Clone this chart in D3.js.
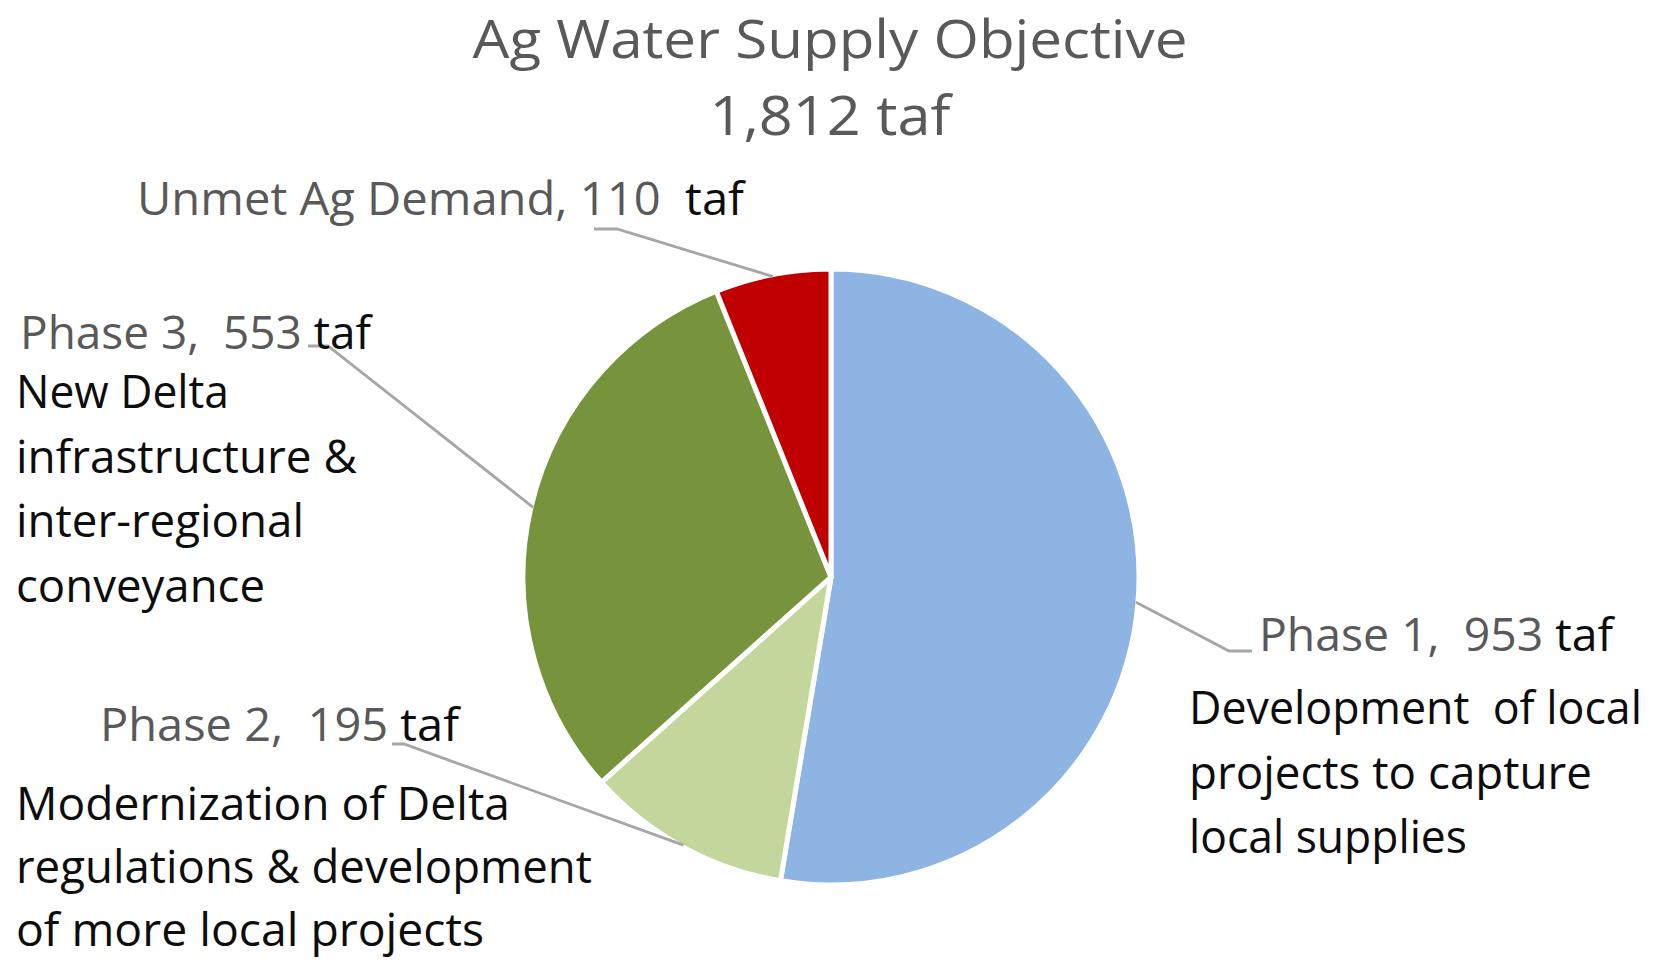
<!DOCTYPE html>
<html>
<head>
<meta charset="utf-8">
<script src="https://cdn.jsdelivr.net/npm/d3@7"></script>
<style>
  html, body { margin: 0; padding: 0; background: #fff; }
  svg { display: block; }
  text { font-family: "Open Sans", "Noto Sans", sans-serif; }
</style>
</head>
<body>
<svg id="chart" width="1655" height="960"></svg>
<script>
// ---- data ----
const categories = ["Phase 1", "Phase 2", "Phase 3", "Unmet Ag Demand"];
const values = [953, 195, 553, 110];
const units = "taf";
const colors = ["#8EB4E3", "#C3D69B", "#77933C", "#C00000"];
const titleLines = ["Ag Water Supply Objective", "1,812 taf"];
const descriptions = [
  ["Development  of local", "projects to capture", "local supplies"],
  ["Modernization of Delta", "regulations & development", "of more local projects"],
  ["New Delta", "infrastructure &", "inter-regional", "conveyance"],
  []
];

// ---- layout ----
const W = 1655, H = 960;
const cx = 831, cy = 577, R = 308;
const svg = d3.select("#chart");

// title
const titleLayout = [{y: 58, len: 715, size: 53}, {y: 135, len: 241, size: 54}];
svg.selectAll("text.title").data(titleLines).join("text")
  .attr("class", "title")
  .attr("x", cx - 1)
  .attr("y", (d, i) => titleLayout[i].y)
  .attr("text-anchor", "middle")
  .attr("font-size", (d, i) => titleLayout[i].size)
  .attr("font-weight", 400)
  .attr("fill", "#595959")
  .attr("textLength", (d, i) => titleLayout[i].len)
  .attr("lengthAdjust", "spacingAndGlyphs")
  .text(d => d);

// pie
const pie = d3.pie().sort(null).value(d => d.v);
const arcs = pie(values.map((v, i) => ({v, i})));
const arc = d3.arc().innerRadius(0).outerRadius(R);
const g = svg.append("g").attr("transform", `translate(${cx},${cy})`);
g.selectAll("path").data(arcs).join("path")
  .attr("d", arc)
  .attr("fill", d => colors[d.data.i])
  .attr("stroke", "#fff")
  .attr("stroke-width", 5)
  .attr("stroke-linejoin", "round");

// label layout (positions of label text blocks & leader elbows)
const labelLayout = [
  {x: 1259, y: 651, len: 354, sep1: "\u00A0\u00A0", sep2: " ",
   elbow: [1229, 651], end: [1252, 651], dx: 1189, dy0: 724, step: 64.5, lens: [453, 403, 278]},
  {x: 100, y: 741, len: 359, sep1: "\u00A0\u00A0", sep2: " ",
   elbow: [404, 744], end: [392, 744], dx: 16, dy0: 820, step: 63, lens: [494, 576, 468]},
  {x: 20, y: 349, len: 351, sep1: "\u00A0\u00A0", sep2: " ",
   elbow: [328, 346], end: [308, 346], dx: 16, dy0: 408, step: 64.6, lens: [213, 341, 288, 249]},
  {x: 137, y: 215, len: 607, sep1: "\u00A0", sep2: "\u00A0\u00A0",
   elbow: [617, 229], end: [594, 229]}
];

// leader lines from slice edge at mid-angle
const edgeArc = d3.arc().innerRadius(R - 2).outerRadius(R - 2);
svg.selectAll("polyline.leader").data(arcs).join("polyline")
  .attr("class", "leader")
  .attr("points", d => {
    const c = edgeArc.centroid(d);
    const L = labelLayout[d.data.i];
    return [[c[0] + cx, c[1] + cy], L.elbow, L.end].map(p => p.join(",")).join(" ");
  })
  .attr("fill", "none")
  .attr("stroke", "#A6A6A6")
  .attr("stroke-width", 2.8);

// category labels
arcs.forEach(d => {
  const i = d.data.i;
  const L = labelLayout[i];
  const t = svg.append("text")
    .attr("x", L.x).attr("y", L.y)
    .attr("font-size", 46)
    .attr("textLength", L.len)
    .attr("lengthAdjust", "spacingAndGlyphs");
  t.append("tspan").attr("fill", "#595959")
    .text(`${categories[i]},${L.sep1}${d3.format(",")(values[i])}${L.sep2}`);
  t.append("tspan").attr("fill", "#0D0D0D").text(units);

  descriptions[i].forEach((line, k) => {
    svg.append("text")
      .attr("x", L.dx)
      .attr("y", L.dy0 + k * L.step)
      .attr("font-size", 46)
      .attr("fill", "#0D0D0D")
      .attr("textLength", L.lens[k])
      .attr("lengthAdjust", "spacingAndGlyphs")
      .attr("xml:space", "preserve")
      .text(line);
  });
});
</script>
</body>
</html>
